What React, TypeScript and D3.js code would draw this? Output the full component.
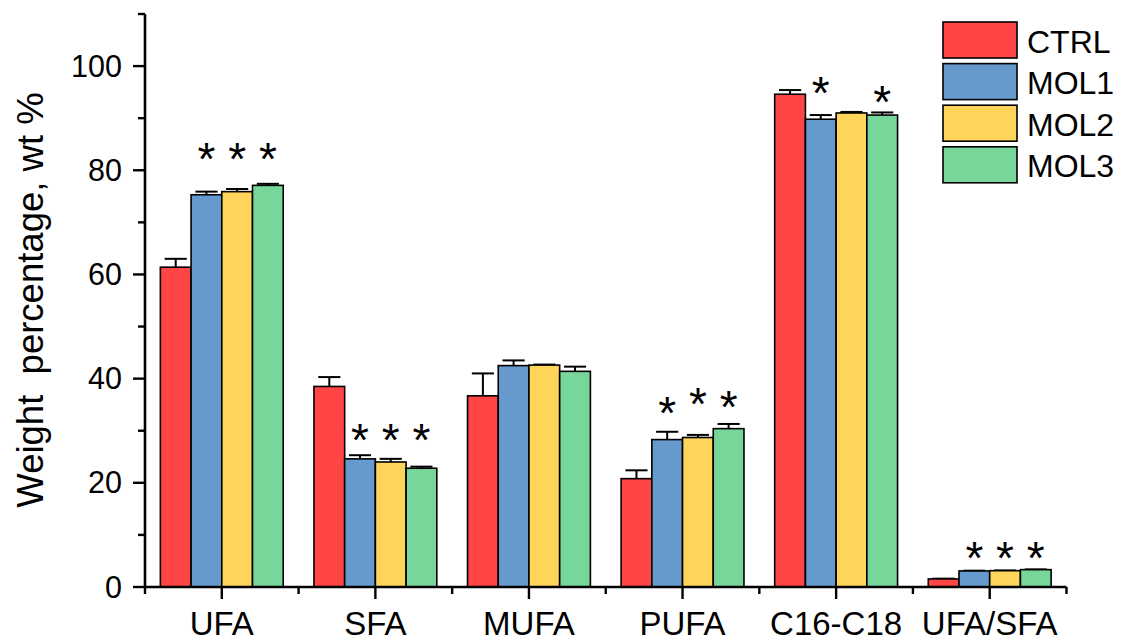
import React from "react";
import * as d3 from "d3";

const categories = ["UFA", "SFA", "MUFA", "PUFA", "C16-C18", "UFA/SFA"];
const seriesNames = ["CTRL", "MOL1", "MOL2", "MOL3"];
const seriesColors = ["#FF4545", "#6699CC", "#FFD45A", "#77D69A"];

const ctrlValues = [61.4, 38.5, 36.7, 20.8, 94.6, 1.55];
const mol1Values = [75.3, 24.6, 42.5, 28.3, 89.8, 3.08];
const mol2Values = [75.9, 24.0, 42.6, 28.7, 91.0, 3.13];
const mol3Values = [77.1, 22.8, 41.4, 30.4, 90.6, 3.33];

const ctrlErrors = [1.6, 1.8, 4.3, 1.6, 0.8, 0.05];
const mol1Errors = [0.6, 0.7, 1.0, 1.5, 0.8, 0.05];
const mol2Errors = [0.5, 0.6, 0.1, 0.5, 0.2, 0.05];
const mol3Errors = [0.3, 0.3, 0.9, 0.9, 0.5, 0.05];

// significance markers: [category, series, y value of asterisk centre]
const sigCategory = ["UFA", "UFA", "UFA", "SFA", "SFA", "SFA", "PUFA", "PUFA", "PUFA", "C16-C18", "C16-C18", "UFA/SFA", "UFA/SFA", "UFA/SFA"];
const sigSeries = ["MOL1", "MOL2", "MOL3", "MOL1", "MOL2", "MOL3", "MOL1", "MOL2", "MOL3", "MOL1", "MOL3", "MOL1", "MOL2", "MOL3"];
const sigY = [84.4, 84.4, 84.4, 30.4, 30.4, 30.4, 35.6, 37.4, 36.8, 97.1, 95.4, 7.75, 7.75, 7.75];

const yMajorTicks = [0, 20, 40, 60, 80, 100];
const yMinorTicks = [10, 30, 50, 70, 90, 110];

const yLabel = "Weight\u00A0\u00A0percentage, wt %";

const FONT = "'Liberation Sans', Arial, Helvetica, sans-serif";

export default function App() {
  const W = 1126, H = 644;
  const x0 = 145, x1 = 1066.5, yTop = 14, yBottom = 587;
  const values = [ctrlValues, mol1Values, mol2Values, mol3Values];
  const errors = [ctrlErrors, mol1Errors, mol2Errors, mol3Errors];

  const x = d3.scaleBand<string>().domain(categories).range([x0, x1]).paddingInner(0).paddingOuter(0);
  const bw = x.bandwidth();
  const xs = d3.scaleBand<string>().domain(seriesNames).range([bw * 0.1, bw * 0.9]);
  const y = d3.scaleLinear().domain([0, 110]).range([yBottom, yTop]);
  const barW = xs.bandwidth();
  const capW = barW * 0.72;
  const boundaries = categories.map((c) => x(c) as number).concat([x1]);

  const asteriskSize = 46;

  return (
    <svg width={W} height={H} style={{ position: "absolute", left: 0, top: 0, background: "#fff" }} fontFamily={FONT}>
      <rect x={0} y={0} width={W} height={H} fill="#fff" />
      {/* bars */}
      {seriesNames.map((s, si) =>
        categories.map((c, ci) => {
          const v = values[si][ci];
          const e = errors[si][ci];
          const bx = (x(c) as number) + (xs(s) as number);
          const cx = bx + barW / 2;
          return (
            <g key={s + c}>
              <line x1={cx} x2={cx} y1={y(v)} y2={y(v + e)} stroke="#000" strokeWidth={2} />
              <line x1={cx - capW / 2} x2={cx + capW / 2} y1={y(v + e)} y2={y(v + e)} stroke="#000" strokeWidth={2} />
              <rect x={bx} y={y(v)} width={barW} height={y(0) - y(v)} fill={seriesColors[si]} stroke="#000" strokeWidth={1.6} />
            </g>
          );
        })
      )}
      {/* significance asterisks */}
      {sigCategory.map((c, i) => {
        const cx = (x(c) as number) + (xs(sigSeries[i]) as number) + barW / 2;
        return (
          <text key={"sig" + i} x={cx} y={y(sigY[i]) + asteriskSize * 0.6} textAnchor="middle" fontSize={asteriskSize} fill="#000">
            *
          </text>
        );
      })}
      {/* y axis */}
      <line x1={x0} x2={x0} y1={yTop} y2={yBottom} stroke="#000" strokeWidth={2.6} />
      {yMajorTicks.map((t) => (
        <g key={"ym" + t}>
          <line x1={x0 - 12} x2={x0} y1={y(t)} y2={y(t)} stroke="#000" strokeWidth={2.4} />
          <text x={x0 - 23} y={y(t) + 10.5} textAnchor="end" fontSize={30.5} fill="#000">
            {t}
          </text>
        </g>
      ))}
      {yMinorTicks.map((t) => (
        <line key={"yn" + t} x1={x0 - 7} x2={x0} y1={y(t)} y2={y(t)} stroke="#000" strokeWidth={2.4} />
      ))}
      {/* x axis */}
      <line x1={x0 - 1.3} x2={x1} y1={yBottom} y2={yBottom} stroke="#000" strokeWidth={2.6} />
      {categories.map((c) => {
        const cx = (x(c) as number) + bw / 2;
        return (
          <g key={"xm" + c}>
            <line x1={cx} x2={cx} y1={yBottom} y2={yBottom + 12} stroke="#000" strokeWidth={2.4} />
            <text x={cx} y={635} textAnchor="middle" fontSize={33} fill="#000">
              {c}
            </text>
          </g>
        );
      })}
      {boundaries.map((b, i) => (
        <line key={"xn" + i} x1={b} x2={b} y1={yBottom} y2={yBottom + 7} stroke="#000" strokeWidth={2.4} />
      ))}
      {/* y label */}
      <text transform={`translate(43,300) rotate(-90)`} textAnchor="middle" fontSize={36.5} fill="#000">
        {yLabel}
      </text>
      {/* legend */}
      {seriesNames.map((s, i) => {
        const ly = 22 + i * 41.6;
        return (
          <g key={"lg" + s}>
            <rect x={943} y={ly} width={74} height={36} fill={seriesColors[i]} stroke="#000" strokeWidth={1.6} />
            <text x={1027} y={ly + 30.5} fontSize={32} fill="#000">
              {s}
            </text>
          </g>
        );
      })}
    </svg>
  );
}
